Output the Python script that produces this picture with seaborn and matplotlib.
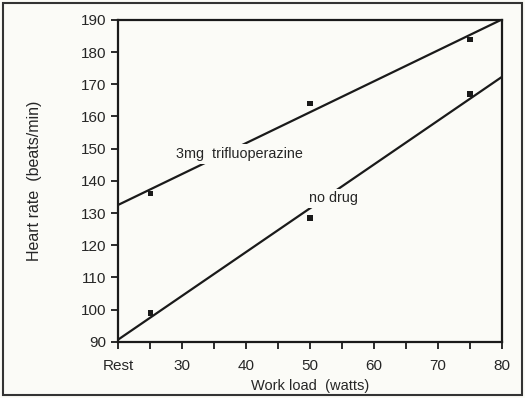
import numpy as np
import pandas as pd
import matplotlib.pyplot as plt
import seaborn as sns
from matplotlib.patches import Rectangle

# data
work_load = [25, 50, 75]
hr_trifluo = [136, 164, 184]
hr_nodrug = [99, 128.5, 167]
xtick_pos = [20, 30, 40, 50, 60, 70, 80]
xtick_labels = ['Rest', '30', '40', '50', '60', '70', '80']
ytick_pos = [90, 100, 110, 120, 130, 140, 150, 160, 170, 180, 190]

dados = pd.DataFrame({
    'load': work_load * 2,
    'hr': hr_trifluo + hr_nodrug,
    'grupo': ['3mg trifluoperazine'] * 3 + ['no drug'] * 3,
})

sns.set_style('ticks')
plt.rcParams['font.family'] = ['Liberation Sans', 'DejaVu Sans']

fundo = '#fbfbf7'
fig = plt.figure(figsize=(5.25, 3.98), dpi=100, facecolor=fundo)
ax = fig.add_axes([0.225, 0.141, 0.731, 0.809])
ax.set_facecolor(fundo)
ax.set_xlim(20, 80)
ax.set_ylim(90, 190)

# regression lines across the whole axis (truncate=False uses the current xlim)
for g in ['3mg trifluoperazine', 'no drug']:
    sub = dados[dados['grupo'] == g]
    sns.regplot(data=sub, x='load', y='hr', ax=ax, scatter=False, ci=None,
                truncate=False, color='#1a1a1a', line_kws={'lw': 1.6})

sns.scatterplot(data=dados, x='load', y='hr', ax=ax, marker='s', s=14,
                color='#1a1a1a', edgecolor='none', legend=False, zorder=5)

# labels on boxes so they break the lines
ax.text(39, 148.4, '3mg  trifluoperazine', fontsize=10.4, ha='center', va='center',
        bbox=dict(facecolor=fundo, edgecolor='none', pad=2), zorder=6)
ax.text(53.6, 134.6, 'no drug', fontsize=10.4, ha='center', va='center',
        bbox=dict(facecolor=fundo, edgecolor='none', pad=2), zorder=6)

ax.set_xticks(xtick_pos)
ax.set_xticklabels(xtick_labels)
ax.set_xticks([25, 35, 45, 55, 65, 75], minor=True)
ax.set_yticks(ytick_pos)
ax.tick_params(which='both', direction='out', length=5, width=1.3, labelsize=11, color='#1a1a1a')
ax.tick_params(axis='x', pad=7)
for s in ax.spines.values():
    s.set_linewidth(1.6)
    s.set_color('#1a1a1a')

ax.set_xlabel('Work load  (watts)', fontsize=10.5, labelpad=5)
ax.set_ylabel('Heart rate  (beats/min)', fontsize=11.5, labelpad=28)

# outer frame of the scanned figure
fig.patches.append(Rectangle((0.006, 0.008), 0.988, 0.984, transform=fig.transFigure,
                             fill=False, edgecolor='#333333', lw=1.5))

fig.savefig('out.png', dpi=100, facecolor=fundo)
